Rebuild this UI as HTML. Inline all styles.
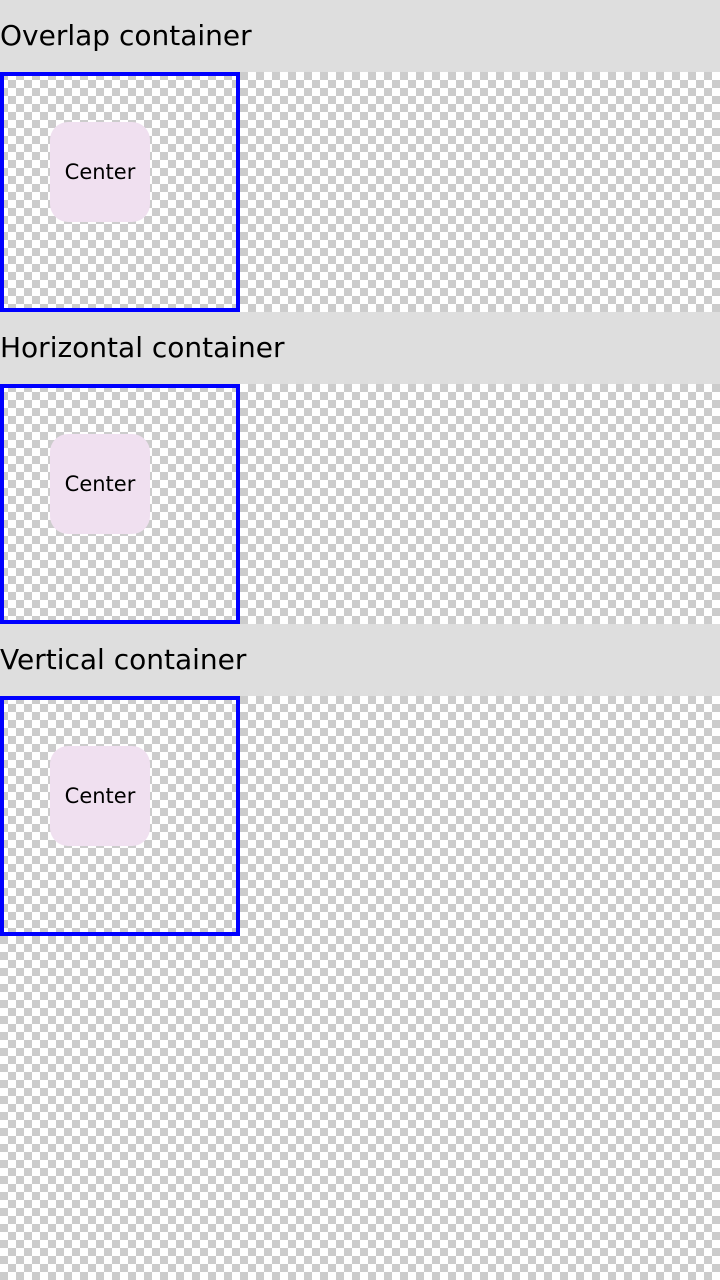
<!DOCTYPE html>
<html><head><style>
html,body{margin:0;padding:0;}
body{width:720px;height:1280px;position:relative;overflow:hidden;font-family:"DejaVu Sans","Liberation Sans",sans-serif;
background-color:#fff;
background-image:linear-gradient(45deg,#ccc 25%,transparent 25%,transparent 75%,#ccc 75%),linear-gradient(45deg,#ccc 25%,transparent 25%,transparent 75%,#ccc 75%);
background-size:16px 16px;background-position:0 0,8px 8px;}
.h{position:absolute;left:0;width:720px;height:72px;background:#dedede;font-size:28px;line-height:72px;color:#000;}
.b{position:absolute;left:0;width:232px;height:232px;border:4px solid #0000ff;}
.c{position:absolute;left:46px;top:46px;width:100px;height:100px;border-radius:18px;background:#f0e0f0;font-size:21px;line-height:100px;text-align:center;color:#000;}
</style></head><body>
<div class="h" style="top:0">Overlap container</div>
<div class="b" style="top:72px"><div class="c">Center</div></div>
<div class="h" style="top:312px">Horizontal container</div>
<div class="b" style="top:384px"><div class="c">Center</div></div>
<div class="h" style="top:624px">Vertical container</div>
<div class="b" style="top:696px"><div class="c">Center</div></div>
</body></html>
